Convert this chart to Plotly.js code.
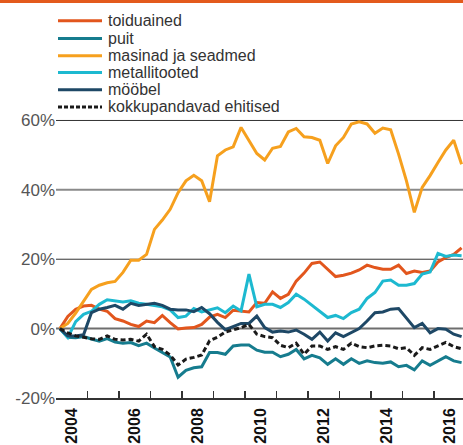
<!DOCTYPE html>
<html>
<head>
<meta charset="utf-8">
<script src="https://cdn.plot.ly/plotly-3.0.1.min.js"></script>
<style>html,body{margin:0;padding:0;background:#fff;}#chart{width:463px;height:445px;}</style>
</head>
<body>
<div id="chart"></div>
<script>
// Quarterly data 2004 Q1 – 2016 Q4 (% change vs start)
const startYear = 2004;
const endYear = 2016;
const seriesNames = ['toiduained', 'puit', 'masinad ja seadmed', 'metallitooted', 'mööbel', 'kokkupandavad ehitised'];

const toiduained = [0, 3.5, 5.6, 6.5, 6.7, 5.6, 5.0, 2.9, 2.2, 1.2, 0.6, 2.2, 1.7, 3.8, 1.7, -0.1, 0.2, 0.3, 1.2, 3.3, 4.1, 3.2, 5.3, 5.1, 4.8, 7.5, 7.3, 10.6, 8.7, 9.9, 13.7, 16.0, 18.8, 19.2, 17.1, 15.0, 15.4, 16.0, 16.9, 18.3, 17.6, 17.1, 17.1, 18.3, 15.9, 16.6, 16.2, 16.6, 19.2, 20.5, 21.4, 23.3];
const puit = [0, -2.5, -2.6, -2.3, -3.0, -3.6, -2.9, -3.9, -4.2, -4.0, -4.9, -4.2, -5.6, -6.8, -8.2, -14.0, -12.0, -11.3, -11.0, -6.9, -6.9, -7.4, -5.0, -4.7, -4.7, -6.2, -6.8, -6.8, -8.1, -7.4, -6.0, -8.7, -7.7, -8.4, -10.3, -8.7, -10.3, -8.7, -10.0, -9.3, -9.8, -10.0, -9.6, -11.0, -10.6, -11.9, -9.3, -10.6, -9.3, -8.1, -9.3, -9.8];
const masinad = [0, 1.5, 4.5, 7.8, 11.3, 12.5, 13.2, 13.6, 16.2, 19.7, 19.7, 21.4, 28.6, 31.3, 34.4, 39.2, 42.6, 44.2, 42.6, 36.6, 49.8, 51.5, 52.4, 58.0, 54.3, 50.5, 48.6, 52.0, 52.5, 56.7, 57.7, 55.3, 55.1, 54.3, 47.6, 52.7, 55.1, 59.0, 59.6, 59.0, 56.3, 57.8, 57.3, 50.3, 42.6, 33.5, 40.7, 44.1, 47.9, 51.5, 54.3, 47.4];
const metallitooted = [0, -2.6, 2.0, 4.1, 5.0, 7.0, 8.3, 8.0, 7.7, 8.0, 7.3, 7.0, 6.7, 6.3, 5.4, 3.2, 3.6, 5.8, 4.8, 5.5, 6.0, 4.6, 6.5, 5.1, 15.7, 6.3, 7.0, 7.0, 6.1, 7.5, 9.9, 8.5, 6.7, 5.1, 3.2, 3.8, 2.9, 4.6, 5.6, 8.7, 10.4, 13.7, 14.0, 12.5, 12.5, 13.0, 15.7, 16.3, 21.7, 20.8, 21.2, 21.0];
const moobel = [0, -2.1, -2.1, -1.8, 4.6, 5.6, 6.1, 6.7, 5.6, 7.3, 6.7, 7.0, 7.3, 6.7, 5.6, 5.4, 5.4, 4.9, 6.1, 4.3, 1.8, -0.3, 0.6, 1.5, 1.5, 3.6, 0.3, -1.0, -0.7, -1.0, -0.4, -1.6, -3.1, -1.0, -3.6, -1.2, -2.3, -1.2, 0.0, 2.2, 4.6, 4.8, 5.6, 5.8, 2.9, 0.3, 1.5, -1.2, 0.0, -0.2, -1.6, -2.3];
const kokkupandavad = [0, -1.2, -2.1, -2.6, -2.9, -3.1, -2.1, -3.1, -3.3, -3.1, -3.6, -1.6, -5.2, -6.0, -7.6, -10.5, -8.8, -8.3, -7.6, -3.5, -2.5, -1.0, -0.4, 0.3, 1.2, -1.6, -2.3, -2.6, -4.8, -5.5, -4.2, -7.4, -5.0, -5.0, -6.0, -5.2, -6.0, -4.2, -5.2, -5.5, -5.0, -4.8, -5.0, -5.8, -5.5, -7.7, -5.5, -6.0, -5.0, -4.0, -5.2, -5.8];

const yTickVals = [-20, 0, 20, 40, 60];
const yTickText = ['-20%', '0%', '20%', '40%', '60%'];
const yearLabels = ['2004', '2006', '2008', '2010', '2012', '2014', '2016'];

// quarter midpoints as numeric x positions
const quarters = [];
for (let y = startYear; y <= endYear; y++) {
  for (let q = 1; q <= 4; q++) quarters.push(y + (q - 0.5) / 4);
}
const yearTicks = [];
for (let y = startYear; y <= endYear; y++) yearTicks.push(y);

const colors = ['#E2561D', '#167C8E', '#F6A01E', '#1DB9D0', '#1E4866', '#1a1a1a'];
const values = [toiduained, puit, masinad, metallitooted, moobel, kokkupandavad];

const traces = values.map((v, k) => ({
  x: quarters, y: v, type: 'scatter', mode: 'lines', name: seriesNames[k],
  xaxis: k === 5 ? 'x2' : 'x',
  line: {color: colors[k], width: 3, dash: k === 5 ? '5px,3px' : 'solid'},
  hoverinfo: 'skip', showlegend: false
}));

// plot area geometry (pixels)
const W = 463, H = 445, L = 56, T = 117, B = 47, R = 0;
const pw = W - L - R, ph = H - T - B;
const px = v => (v - L) / pw;
const py = v => (H - B - v) / ph;

const shapes = [];
// gridlines
[[60, '#333', 1], [40, '#8a8a8a', 2], [20, '#333', 1], [0, '#6e6e6e', 2]].forEach(g => {
  shapes.push({type: 'line', xref: 'paper', yref: 'y', x0: 0, x1: 1, y0: g[0], y1: g[0],
    line: {color: g[1], width: g[2]}, layer: 'below'});
});
// top orange bar
shapes.push({type: 'rect', xref: 'paper', yref: 'paper', x0: px(0), x1: px(W), y0: py(3), y1: py(0),
  fillcolor: '#E35A1C', line: {width: 0}});

// manual legend
const annotations = [];
const legY = [20.7, 38.5, 55.8, 72.5, 89.8, 107];
seriesNames.forEach((n, k) => {
  shapes.push({type: 'line', xref: 'paper', yref: 'paper', x0: px(58), x1: px(102), y0: py(legY[k]), y1: py(legY[k]),
    line: {color: colors[k], width: 3, dash: k === 5 ? '4px,2px' : 'solid'}});
  annotations.push({xref: 'paper', yref: 'paper', x: px(106), y: py(legY[k]), xanchor: 'left', yanchor: 'middle',
    text: n, showarrow: false, font: {family: 'Liberation Sans, Arial, sans-serif', size: 16, color: '#333'}});
});

const layout = {
  width: W, height: H,
  margin: {l: L, r: R, t: T, b: B, pad: 0},
  paper_bgcolor: '#fff', plot_bgcolor: '#fff',
  showlegend: false,
  font: {family: 'Liberation Sans, Arial, sans-serif'},
  xaxis: {
    range: [2004, 2016.92], tickmode: 'array', tickvals: yearTicks, showticklabels: false,
    ticks: 'inside', ticklen: 7, tickwidth: 1.5, tickcolor: '#333',
    showline: true, linecolor: '#333', linewidth: 1.5, showgrid: false, zeroline: false, fixedrange: true
  },
  xaxis2: {
    overlaying: 'x', anchor: 'y', side: 'bottom', range: [2004, 2016.92],
    tickmode: 'array', tickvals: yearLabels.map(s => +s + 0.5), ticktext: yearLabels,
    tickangle: -90, ticks: '', showline: false, showgrid: false, zeroline: false,
    ticklabelstandoff: 6,
    tickfont: {size: 16, color: '#111', weight: 'bold'}, fixedrange: true
  },
  yaxis: {
    range: [-20, 61], tickmode: 'array', tickvals: yTickVals, ticktext: yTickText,
    ticks: '', showgrid: false, zeroline: false, showline: false,
    tickfont: {size: 17, color: '#555'}, fixedrange: true
  },
  shapes: shapes,
  annotations: annotations
};

Plotly.newPlot('chart', traces, layout, {displayModeBar: false, staticPlot: true});
</script>
</body>
</html>
